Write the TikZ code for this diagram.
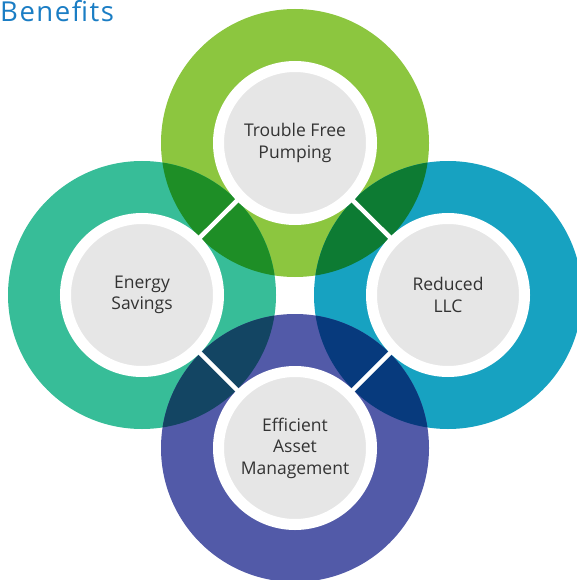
\documentclass[tikz,border=0pt]{standalone}
\usepackage{fontspec}
\setmainfont{Open Sans}
\usepackage{tikz}
\usetikzlibrary{positioning}
\definecolor{ringtop}{HTML}{8CC63F}
\definecolor{ringleft}{HTML}{37BD98}
\definecolor{ringright}{HTML}{17A2C1}
\definecolor{ringbottom}{HTML}{525AA8}
\definecolor{laptl}{HTML}{1E8E26}
\definecolor{laptr}{HTML}{0D7B33}
\definecolor{lapbl}{HTML}{134563}
\definecolor{lapbr}{HTML}{073A7D}
\definecolor{hubgray}{HTML}{E6E6E6}
\definecolor{labeltext}{HTML}{333333}
\definecolor{titleblue}{HTML}{1A7DC4}

\begin{document}
\begin{tikzpicture}[x=1pt,y=-1pt,
  hub/.style={circle,fill=hubgray,draw=white,line width=11pt,minimum size=153pt,inner sep=0pt,align=center,text=labeltext,font=\fontsize{17.5}{21.5}\selectfont},
  gap/.style={draw=white,line width=4.5pt,shorten <=-2pt,shorten >=-2pt}]
\useasboundingbox (0,0) rectangle (577,580);
\clip (0,0) rectangle (577,580);
\coordinate (ctop) at (295,143);
\coordinate (cleft) at (142,295);
\coordinate (cright) at (448,295);
\coordinate (cbottom) at (295,448);
\fill[ringtop] (ctop) circle[radius=134pt];
\fill[ringleft] (cleft) circle[radius=134pt];
\fill[ringright] (cright) circle[radius=134pt];
\fill[ringbottom] (cbottom) circle[radius=134pt];
\begin{scope}
\clip (ctop) circle[radius=134pt];
\fill[laptl] (cleft) circle[radius=134pt];
\fill[laptr] (cright) circle[radius=134pt];
\end{scope}
\begin{scope}
\clip (cbottom) circle[radius=134pt];
\fill[lapbl] (cleft) circle[radius=134pt];
\fill[lapbr] (cright) circle[radius=134pt];
\end{scope}
\node[hub] (top) at (ctop) {Trouble Free\\Pumping};
\node[hub] (left) at (cleft) {Energy\\Savings};
\node[hub] (right) at (cright) {Reduced\\LLC};
\node[hub] (bottom) at (cbottom) {Efficient\\Asset\\Management};
\draw[gap] (top) -- (left);
\draw[gap] (top) -- (right);
\draw[gap] (bottom) -- (left);
\draw[gap] (bottom) -- (right);
\node[anchor=base west,inner sep=0pt,text=titleblue,font=\fontsize{27.5}{30}\selectfont\addfontfeature{LetterSpace=5.5}] (title) at (0,22) {Benefits};
\end{tikzpicture}
\end{document}
